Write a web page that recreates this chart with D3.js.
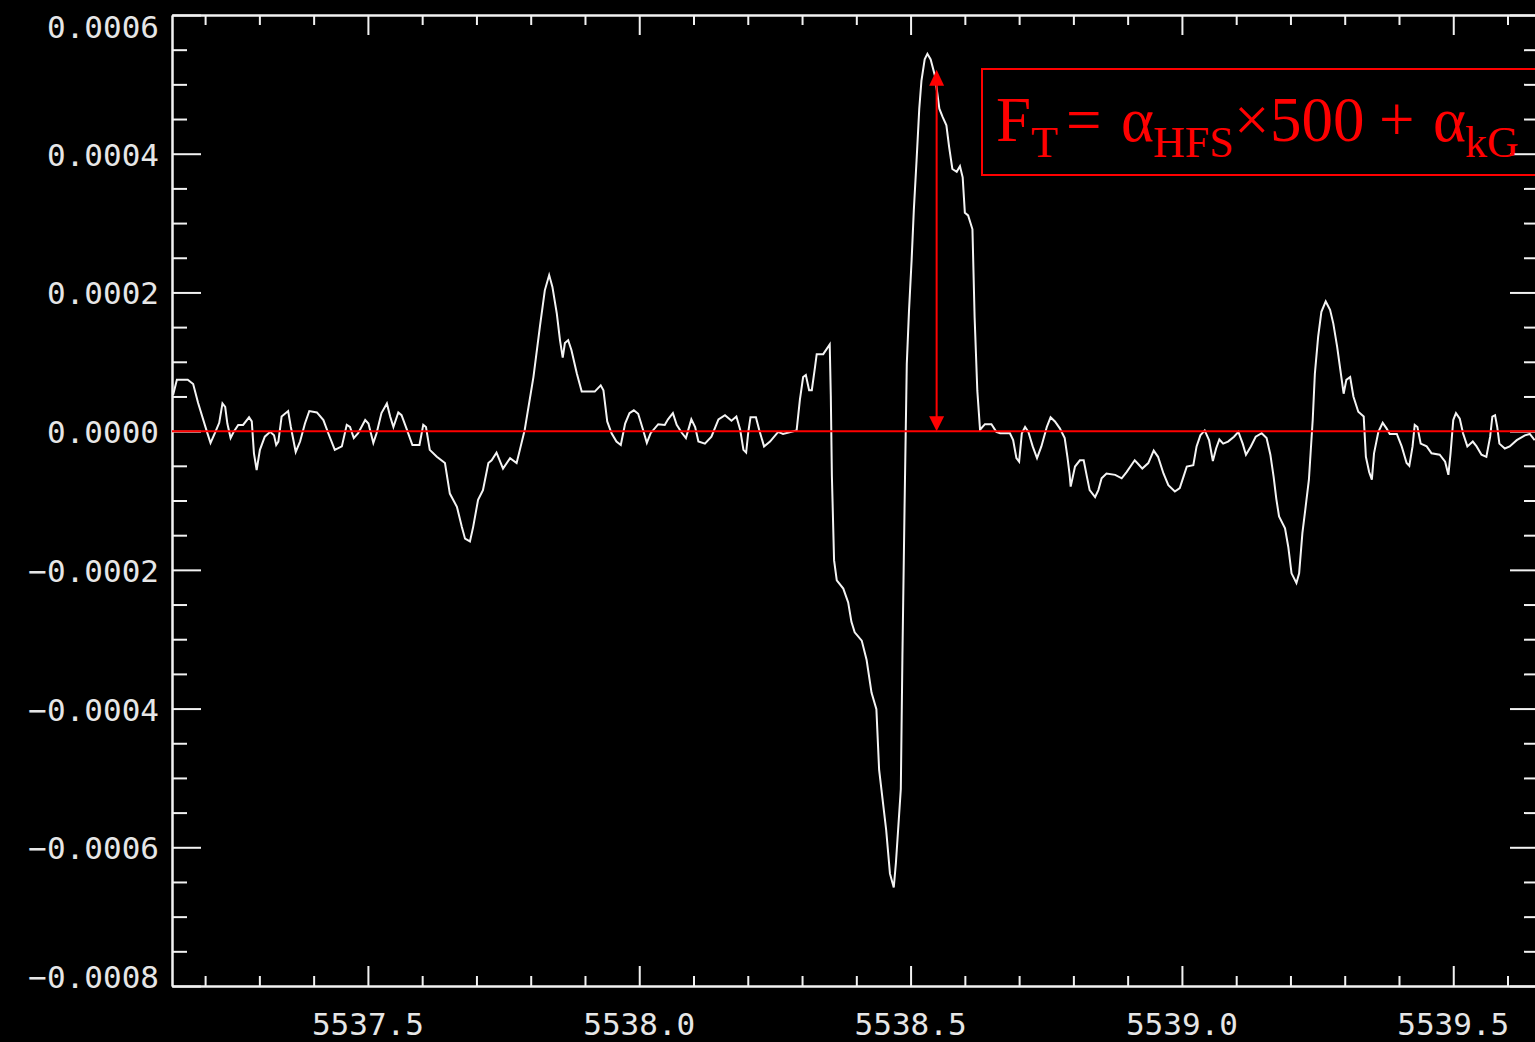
<!DOCTYPE html>
<html>
<head>
<meta charset="utf-8">
<script src="https://cdn.jsdelivr.net/npm/d3@7"></script>
<style>
  html, body { margin: 0; padding: 0; background: #000; }
  svg { display: block; }
</style>
</head>
<body>
<svg id="chart" width="1535" height="1042"></svg>
<script>
// ---- data (wavelength in Å, signal in units of 1e-4) ----
const wavelengths = [
5537.141,5537.148,5537.168,5537.178,5537.187,5537.203,5537.210,5537.218,5537.226,5537.232,
5537.237,5537.241,5537.247,5537.252,5537.261,5537.270,5537.281,5537.286,5537.290,5537.295,
5537.301,5537.310,5537.320,5537.327,5537.331,5537.335,5537.341,5537.353,5537.358,5537.367,
5537.375,5537.384,5537.392,5537.406,5537.418,5537.427,5537.439,5537.452,5537.461,5537.467,
5537.474,5537.482,5537.495,5537.501,5537.510,5537.516,5537.525,5537.535,5537.541,5537.547,
5537.556,5537.562,5537.571,5537.582,5537.595,5537.602,5537.607,5537.614,5537.627,5537.642,
5537.651,5537.664,5537.673,5537.679,5537.688,5537.694,5537.703,5537.712,5537.722,5537.728,
5537.737,5537.749,5537.762,5537.774,5537.780,5537.789,5537.805,5537.817,5537.826,5537.834,
5537.840,5537.848,5537.854,5537.859,5537.863,5537.869,5537.875,5537.885,5537.894,5537.918,
5537.929,5537.934,5537.941,5537.949,5537.958,5537.966,5537.974,5537.982,5537.990,5537.998,
5538.007,5538.014,5538.021,5538.035,5538.047,5538.053,5538.062,5538.069,5538.078,5538.086,
5538.096,5538.103,5538.109,5538.121,5538.133,5538.146,5538.158,5538.170,5538.179,5538.186,
5538.192,5538.197,5538.201,5538.205,5538.215,5538.221,5538.230,5538.241,5538.256,5538.265,
5538.290,5538.296,5538.302,5538.307,5538.313,5538.318,5538.324,5538.327,5538.339,5538.351,
5538.353,5538.355,5538.359,5538.364,5538.376,5538.385,5538.391,5538.397,5538.410,5538.419,
5538.428,5538.437,5538.442,5538.449,5538.455,5538.462,5538.469,5538.473,5538.477,5538.482,
5538.485,5538.489,5538.493,5538.497,5538.502,5538.506,5538.511,5538.516,5538.520,5538.526,
5538.531,5538.537,5538.545,5538.553,5538.559,5538.566,5538.571,5538.577,5538.585,5538.591,
5538.596,5538.600,5538.606,5538.614,5538.618,5538.623,5538.628,5538.637,5538.649,5538.658,
5538.665,5538.683,5538.689,5538.695,5538.700,5538.705,5538.711,5538.717,5538.725,5538.733,
5538.741,5538.751,5538.758,5538.766,5538.775,5538.784,5538.789,5538.793,5538.795,5538.803,
5538.812,5538.819,5538.825,5538.830,5538.840,5538.846,5538.852,5538.861,5538.877,5538.889,
5538.898,5538.913,5538.919,5538.927,5538.938,5538.948,5538.956,5538.966,5538.975,5538.987,
5538.996,5539.004,5539.009,5539.021,5539.027,5539.034,5539.042,5539.050,5539.057,5539.063,
5539.069,5539.076,5539.085,5539.096,5539.104,5539.112,5539.118,5539.127,5539.136,5539.147,
5539.156,5539.163,5539.169,5539.174,5539.179,5539.190,5539.196,5539.202,5539.211,5539.216,
5539.222,5539.228,5539.234,5539.241,5539.245,5539.251,5539.257,5539.265,5539.273,5539.279,
5539.286,5539.292,5539.298,5539.303,5539.310,5539.316,5539.325,5539.335,5539.339,5539.345,
5539.350,5539.354,5539.362,5539.370,5539.377,5539.383,5539.396,5539.405,5539.414,5539.419,
5539.425,5539.429,5539.434,5539.440,5539.451,5539.460,5539.475,5539.485,5539.491,5539.495,
5539.500,5539.505,5539.512,5539.518,5539.526,5539.536,5539.543,5539.552,5539.561,5539.568,
5539.572,5539.577,5539.581,5539.585,5539.595,5539.604,5539.617,5539.632,5539.641,5539.650
];
const signalE4 = [
0.52,0.74,0.74,0.68,0.41,0.00,-0.17,-0.03,0.12,0.40,
0.35,0.11,-0.10,-0.02,0.09,0.09,0.20,0.14,-0.32,-0.56,
-0.27,-0.08,-0.01,-0.06,-0.20,-0.15,0.21,0.29,0.06,-0.30,
-0.15,0.11,0.29,0.27,0.16,-0.03,-0.27,-0.22,0.09,0.06,
-0.10,-0.03,0.16,0.11,-0.17,-0.03,0.26,0.40,0.21,0.06,
0.27,0.23,0.04,-0.20,-0.20,0.09,0.06,-0.27,-0.37,-0.46,
-0.90,-1.09,-1.38,-1.55,-1.59,-1.38,-0.99,-0.85,-0.46,-0.42,
-0.31,-0.54,-0.39,-0.46,-0.27,0.02,0.78,1.51,2.03,2.25,
2.08,1.70,1.31,1.06,1.27,1.31,1.17,0.83,0.57,0.57,
0.66,0.59,0.14,-0.03,-0.15,-0.20,0.11,0.26,0.30,0.25,
0.02,-0.17,-0.03,0.10,0.09,0.17,0.26,0.09,-0.02,-0.10,
0.17,0.06,-0.15,-0.18,-0.08,0.17,0.23,0.15,0.21,0.02,
-0.27,-0.31,-0.01,0.20,0.20,0.02,-0.22,-0.15,-0.01,-0.04,
0.01,0.45,0.78,0.81,0.59,0.59,0.93,1.11,1.11,1.25,
0.51,-0.65,-1.86,-2.15,-2.27,-2.47,-2.75,-2.90,-3.02,-3.30,
-3.77,-4.01,-4.88,-5.35,-5.75,-6.38,-6.58,-6.22,-5.75,-5.16,
-3.22,-1.04,0.97,1.72,2.48,3.19,3.90,4.65,5.05,5.36,
5.44,5.36,5.12,4.65,4.53,4.41,4.10,3.78,3.74,3.82,
3.66,3.15,3.11,2.91,1.64,0.58,0.02,0.10,0.10,-0.01,
-0.03,-0.03,-0.13,-0.39,-0.44,-0.03,0.06,-0.01,-0.22,-0.39,
-0.22,0.06,0.20,0.14,0.04,-0.10,-0.37,-0.62,-0.80,-0.51,
-0.42,-0.42,-0.66,-0.85,-0.95,-0.85,-0.68,-0.61,-0.63,-0.68,
-0.59,-0.42,-0.47,-0.54,-0.46,-0.28,-0.37,-0.61,-0.78,-0.87,
-0.82,-0.63,-0.51,-0.49,-0.22,-0.06,0.01,-0.13,-0.43,-0.25,
-0.12,-0.18,-0.15,-0.08,-0.01,-0.18,-0.34,-0.22,-0.08,-0.03,
-0.10,-0.34,-0.66,-0.98,-1.23,-1.40,-1.67,-2.05,-2.19,-2.05,
-1.47,-1.09,-0.70,0.16,0.83,1.36,1.72,1.87,1.75,1.55,
1.22,0.88,0.54,0.74,0.78,0.50,0.28,0.21,-0.37,-0.59,
-0.70,-0.32,-0.01,0.12,0.04,-0.04,-0.04,-0.22,-0.46,-0.50,
-0.22,0.09,0.06,-0.18,-0.22,-0.32,-0.34,-0.44,-0.63,-0.32,
0.16,0.26,0.18,-0.03,-0.22,-0.15,-0.22,-0.34,-0.37,-0.08,
0.21,0.23,0.06,-0.18,-0.25,-0.22,-0.13,-0.06,-0.04,-0.13
];
const xDomain = [5537.139, 5539.658];
const yDomain = [-0.0008, 0.0006];
const xTickLabels = ["5537.5", "5538.0", "5538.5", "5539.0", "5539.5"];
const yTickLabels = ["0.0006", "0.0004", "0.0002", "0.0000", "−0.0002", "−0.0004", "−0.0006", "−0.0008"];
const xMajor = [5537.5, 5538.0, 5538.5, 5539.0, 5539.5];
const yMajor = [0.0006, 0.0004, 0.0002, 0.0, -0.0002, -0.0004, -0.0006, -0.0008];
const arrowWave = 5538.548;
const arrowTop = 0.000521;

// ---- layout ----
const L = 172, R = 1539, T = 15, B = 986;
const svg = d3.select("#chart");
svg.append("rect").attr("width", 1535).attr("height", 1042).attr("fill", "#000");

const x = d3.scaleLinear().domain(xDomain).range([L, R]);
const y = d3.scaleLinear().domain(yDomain).range([B, T]);

const xMinor = d3.range(5537.2, 5539.65, 0.1).map(v => +v.toFixed(1)).filter(v => !xMajor.some(m => Math.abs(m - v) < 1e-6));
const yMinor = d3.range(-0.00075, 0.0006, 0.00005).map(v => +v.toFixed(5)).filter(v => !yMajor.some(m => Math.abs(m - v) < 1e-9));

const axisCol = "#f2f2f2";
function styleAxis(g) {
  g.selectAll("path.domain").attr("stroke", axisCol).attr("stroke-width", 2);
  g.selectAll(".tick line").attr("stroke", axisCol).attr("stroke-width", 2);
  g.selectAll(".tick text").remove();
}
function addAxis(gen, tx, ty) {
  svg.append("g").attr("transform", `translate(${tx},${ty})`).call(gen).call(styleAxis);
}
// bottom / top
addAxis(d3.axisBottom(x).tickValues(xMajor).tickSizeInner(-20).tickSizeOuter(0).tickFormat(""), 0, B);
addAxis(d3.axisBottom(x).tickValues(xMinor).tickSizeInner(-10).tickSizeOuter(0).tickFormat(""), 0, B);
addAxis(d3.axisTop(x).tickValues(xMajor).tickSizeInner(-20).tickSizeOuter(0).tickFormat(""), 0, T);
addAxis(d3.axisTop(x).tickValues(xMinor).tickSizeInner(-10).tickSizeOuter(0).tickFormat(""), 0, T);
// left / right
addAxis(d3.axisLeft(y).tickValues(yMajor).tickSizeInner(-29).tickSizeOuter(0).tickFormat(""), L, 0);
addAxis(d3.axisLeft(y).tickValues(yMinor).tickSizeInner(-15).tickSizeOuter(0).tickFormat(""), L, 0);
addAxis(d3.axisRight(y).tickValues(yMajor).tickSizeInner(-29).tickSizeOuter(0).tickFormat(""), R, 0);
addAxis(d3.axisRight(y).tickValues(yMinor).tickSizeInner(-15).tickSizeOuter(0).tickFormat(""), R, 0);

// tick labels
const labelFont = "'DejaVu Sans Mono', 'Liberation Mono', monospace";
svg.append("g").selectAll("text").data(xMajor).join("text")
  .attr("x", d => x(d)).attr("y", 1035)
  .attr("text-anchor", "middle")
  .attr("font-family", labelFont).attr("font-size", 31)
  .attr("fill", "#e6e6e6")
  .text((d, i) => xTickLabels[i]);
svg.append("g").selectAll("text").data(yMajor).join("text")
  .attr("x", 159)
  .attr("y", d => Math.max(38, Math.min(988, y(d) + 12)))
  .attr("text-anchor", "end")
  .attr("font-family", labelFont).attr("font-size", 31)
  .attr("fill", "#e6e6e6")
  .text((d, i) => yTickLabels[i]);

// data line
const pts = wavelengths.map((w, i) => [w, signalE4[i] * 1e-4]);
svg.append("path")
  .datum(pts)
  .attr("d", d3.line().x(d => x(d[0])).y(d => y(d[1])))
  .attr("fill", "none").attr("stroke", "#f4f4f4").attr("stroke-width", 2)
  .attr("stroke-linejoin", "miter");

// red zero line
const red = "#ff0000";
svg.append("line")
  .attr("x1", L).attr("x2", R).attr("y1", y(0)).attr("y2", y(0))
  .attr("stroke", red).attr("stroke-width", 2);

// double arrow
const ax = x(arrowWave), aTop = y(arrowTop), aBot = y(0);
svg.append("line").attr("x1", ax).attr("x2", ax).attr("y1", aTop + 8).attr("y2", aBot - 8)
  .attr("stroke", red).attr("stroke-width", 2);
svg.append("path").attr("d", `M${ax},${aTop} L${ax - 7.5},${aTop + 16} L${ax + 7.5},${aTop + 16} Z`).attr("fill", red);
svg.append("path").attr("d", `M${ax},${aBot} L${ax - 7.5},${aBot - 15} L${ax + 7.5},${aBot - 15} Z`).attr("fill", red);

// formula box
svg.append("rect").attr("x", 982).attr("y", 69).attr("width", 620).attr("height", 106)
  .attr("fill", "none").attr("stroke", red).attr("stroke-width", 2);
const ff = "'Liberation Serif', 'Times New Roman', serif";
const big = 63, small = 44, base = 141, subBase = 157;
const parts = [
  { t: "F", x: 996, y: base, s: big },
  { t: "T", x: 1031, y: subBase, s: small },
  { t: "=", x: 1066, y: base, s: big },
  { t: "α", x: 1121, y: base, s: big },
  { t: "HFS", x: 1153, y: subBase, s: small },
  { t: "×", x: 1234, y: base, s: big },
  { t: "500", x: 1270, y: base, s: big },
  { t: "+", x: 1379, y: base, s: big },
  { t: "α", x: 1433, y: base, s: big },
  { t: "kG", x: 1465, y: subBase, s: small }
];
svg.append("g").selectAll("text").data(parts).join("text")
  .attr("x", d => d.x).attr("y", d => d.y)
  .attr("font-family", ff).attr("font-size", d => d.s)
  .attr("fill", red)
  .text(d => d.t);
</script>
</body>
</html>
